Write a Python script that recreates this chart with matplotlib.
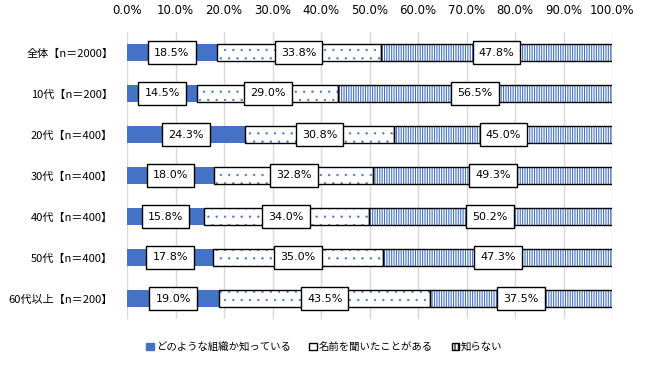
import numpy as np
import matplotlib as mpl
import matplotlib.pyplot as plt
from matplotlib.patches import Patch

plt.rcParams['font.family'] = ['Noto Sans CJK JP', 'DejaVu Sans']
plt.rcParams['hatch.linewidth'] = 0.8

CATEGORIES = ["全体【n＝2000】", "10代【n＝200】", "20代【n＝400】", "30代【n＝400】",
              "40代【n＝400】", "50代【n＝400】", "60代以上【n＝200】"]
KNOW_ORG = [18.5, 14.5, 24.3, 18.0, 15.8, 17.8, 19.0]
HEARD_NAME = [33.8, 29.0, 30.8, 32.8, 34.0, 35.0, 43.5]
DONT_KNOW = [47.8, 56.5, 45.0, 49.3, 50.2, 47.3, 37.5]
SERIES = ["どのような組織か知っている", "名前を聞いたことがある", "知らない"]

BLUE = "#4472C4"
NUM_FONT = ["DejaVu Sans"]


def main():
    fig = plt.figure(figsize=(6.49, 3.66), dpi=100)
    ax = fig.add_axes([127 / 649, 47 / 366, 485 / 649, 287 / 366])

    y = np.arange(len(CATEGORIES))
    h = 0.4
    a = np.array(KNOW_ORG)
    b = np.array(HEARD_NAME)
    c = np.array(DONT_KNOW)

    ax.barh(y, a, height=h, color=BLUE, linewidth=0, zorder=2)
    # hatched segments: blue hatch, then black outline on top
    with mpl.rc_context({'hatch.linewidth': 0.4}):
        ax.barh(y, b, left=a, height=h, color="white", edgecolor=BLUE,
                hatch="..", linewidth=0, zorder=2)
    ax.barh(y, c, left=a + b, height=h, color="white", edgecolor=BLUE,
            hatch="|" * 7, linewidth=0, zorder=2)
    ax.barh(y, b, left=a, height=h, fill=False, edgecolor="black",
            linewidth=1, zorder=3)
    ax.barh(y, c, left=a + b, height=h, fill=False, edgecolor="black",
            linewidth=1, zorder=3)

    for vals, lefts in ((a, np.zeros_like(a)), (b, a), (c, a + b)):
        for yi, v, l in zip(y, vals, lefts):
            ax.text(l + v / 2, yi, f"{v:.1f}%", ha="center", va="center",
                    fontsize=8, family=NUM_FONT, zorder=4,
                    bbox=dict(boxstyle="square,pad=0.55", fc="white",
                              ec="black", lw=1))

    ax.set_xlim(0, 100)
    ax.set_ylim(len(CATEGORIES) - 0.5, -0.5)
    ax.set_xticks(np.arange(0, 101, 10))
    ax.set_xticklabels([f"{t:.1f}%" for t in np.arange(0, 101, 10)],
                       fontsize=8.5, family=NUM_FONT)
    ax.xaxis.tick_top()
    ax.set_yticks(y)
    ax.set_yticklabels(CATEGORIES, fontsize=8)
    ax.tick_params(axis="y", length=0, pad=10)
    ax.tick_params(axis="x", length=0, pad=11)
    ax.grid(axis="x", color="#d9d9d9", lw=1, zorder=0)
    for s in ax.spines.values():
        s.set_visible(False)

    handles = [
        Patch(facecolor=BLUE, edgecolor=BLUE, label=SERIES[0]),
        Patch(facecolor="white", edgecolor="black", label=SERIES[1]),
        Patch(facecolor="white", edgecolor="black", hatch="|||||", label=SERIES[2]),
    ]
    fig.legend(handles=handles, loc="center", bbox_to_anchor=(0.5, 19 / 366),
               ncol=3, frameon=False, fontsize=7.5, handlelength=0.7,
               handleheight=0.7, handletextpad=0.2, columnspacing=1.8)

    fig.savefig("out.png", dpi=100)
    plt.close(fig)


if __name__ == "__main__":
    main()
